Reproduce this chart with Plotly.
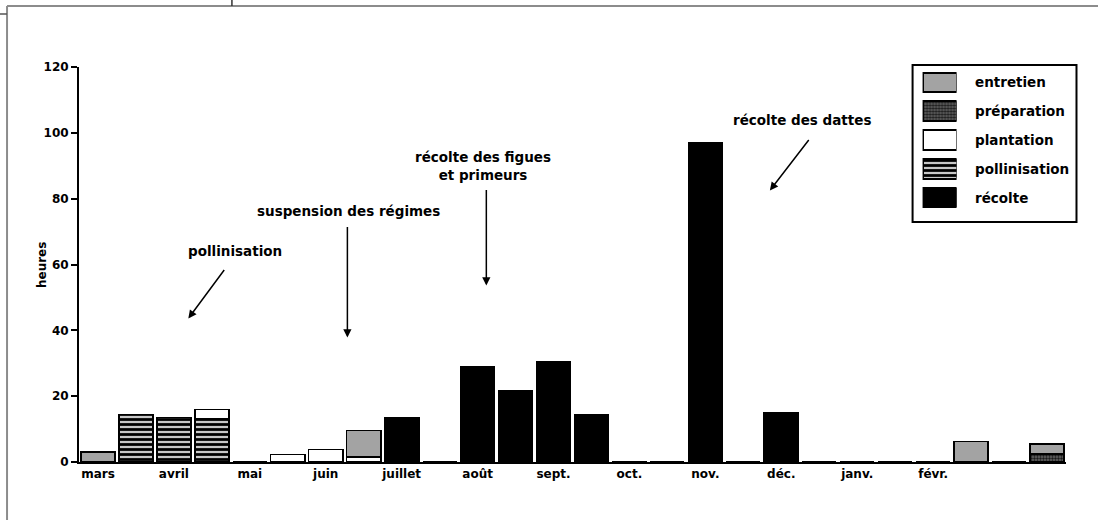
import plotly.graph_objects as go

# 26 demi-mois, de mars à février (+ un créneau final)
slots = list(range(26))
mois = ['mars', 'avril', 'mai', 'juin', 'juillet', 'août', 'sept.', 'oct.',
        'nov.', 'déc.', 'janv.', 'févr.']
mois_pos = [0, 2, 4, 6, 8, 10, 12, 14, 16, 18, 20, 22]

pollinisation = [0, 14.5, 13.5, 13, 0, 0, 0, 0, 0, 0, 0, 0, 0, 0, 0, 0, 0, 0, 0, 0, 0, 0, 0, 0, 0, 0]
preparation = [0, 0, 0, 0, 0, 0, 0, 0, 0, 0, 0, 0, 0, 0, 0, 0, 0, 0, 0, 0, 0, 0, 0, 0, 0, 2.4]
plantation = [0, 0, 0, 3, 0, 2.3, 3.8, 1.5, 0, 0, 0, 0, 0, 0, 0, 0, 0, 0, 0, 0, 0, 0, 0, 0, 0, 0]
entretien = [3, 0, 0, 0, 0, 0, 0, 8, 0, 0, 0, 0, 0, 0, 0, 0, 0, 0, 0, 0, 0, 0, 0, 6.2, 0, 3]
recolte = [0, 0, 0, 0, 0, 0, 0, 0, 13.5, 0, 29, 21.5, 30.5, 14.5, 0, 0, 97, 0, 15, 0, 0, 0, 0, 0, 0, 0]

legende = ['entretien', 'préparation', 'plantation', 'pollinisation', 'récolte']

FONT = 'DejaVu Sans'
styles = {
    'entretien': dict(color='#a3a3a3'),
    'préparation': dict(color='#555555', pattern=dict(shape='.', fgcolor='#1a1a1a', bgcolor='#666666',
                                                      size=3, solidity=0.5, fillmode='replace')),
    'plantation': dict(color='white'),
    'pollinisation': dict(color='#bbbbbb', pattern=dict(shape='-', fgcolor='black', bgcolor='#c8c8c8',
                                                        size=5, solidity=0.55, fillmode='replace')),
    'récolte': dict(color='black'),
}

fig = go.Figure()
for nom, vals in [('pollinisation', pollinisation), ('préparation', preparation),
                  ('plantation', plantation), ('entretien', entretien), ('récolte', recolte)]:
    fig.add_trace(go.Bar(x=slots, y=vals, name=nom, showlegend=False,
                         marker=dict(line=dict(color='black', width=1.5), **styles[nom])))

# légende dessinée sur un petit axe à part pour avoir de grandes vignettes
for i, nom in enumerate(legende):
    fig.add_trace(go.Bar(x=[1], y=[4 - i], orientation='h', xaxis='x2', yaxis='y2', showlegend=False,
                         width=0.68, hoverinfo='skip',
                         marker=dict(line=dict(color='black', width=2), **styles[nom])))

# conversion pixels -> papier (zone de tracé : x 79..1066.5, y 67..462)
def px(x):
    return (x - 79) / 987.5

def py(y):
    return (462 - y) / 395

txt = dict(size=12, family=FONT, weight='bold', color='black')
gros = dict(txt, size=13.5)

annots = []
for i, nom in enumerate(legende):
    annots.append(dict(x=px(973), y=4 - i, xref='paper', yref='y2', text=nom, showarrow=False,
                       xanchor='left', font=gros))

textes = [
    ('pollinisation', 3.62, 64),
    ('suspension des régimes', 6.6, 76.4),
    ('récolte des figues<br>et primeurs', 10.15, 89.8),
    ('récolte des dattes', 18.55, 103.8),
]
for t, x, y in textes:
    annots.append(dict(x=x, y=y, text=t, showarrow=False, xref='x', yref='y', font=gros))

fleches = [(2.38, 43.6, 37, -50), (6.57, 37.8, 0, -112), (10.23, 53.6, 0, -97), (17.7, 82.5, 40, -52)]
for x, y, ax, ay in fleches:
    annots.append(dict(x=x, y=y, ax=ax, ay=ay, xref='x', yref='y', text='', showarrow=True,
                       arrowhead=2, arrowsize=1.1, arrowwidth=1.5, arrowcolor='black'))

annots.append(dict(x=px(33), y=py(265), xref='paper', yref='paper', text='heures', textangle=-90,
                   showarrow=False, font=txt))

shapes = [
    dict(type='rect', xref='paper', yref='paper', x0=px(913), x1=px(1077), y0=py(222), y1=py(65),
         line=dict(color='black', width=2)),
    # cadre gris de la page d'origine
    dict(type='line', xref='paper', yref='paper', x0=px(7), x1=px(1100), y0=py(6), y1=py(6),
         line=dict(color='#8c8c8c', width=2)),
    dict(type='line', xref='paper', yref='paper', x0=px(7), x1=px(7), y0=py(6), y1=py(522),
         line=dict(color='#8c8c8c', width=2)),
    dict(type='line', xref='paper', yref='paper', x0=px(-2), x1=px(7), y0=py(14), y1=py(14),
         line=dict(color='#555555', width=1.5)),
    dict(type='line', xref='paper', yref='paper', x0=px(232), x1=px(232), y0=py(-2), y1=py(6),
         line=dict(color='#333333', width=1.5)),
]

fig.update_layout(
    width=1098, height=520, barmode='stack', bargap=0.1,
    margin=dict(l=79, r=31.5, t=67, b=58),
    paper_bgcolor='white', plot_bgcolor='white',
    font=txt,
    xaxis=dict(range=[-0.5, 25.5], tickvals=mois_pos, ticktext=mois, showgrid=False, zeroline=False,
               showline=True, linecolor='black', linewidth=2, ticks='', ticklabelstandoff=0,
               tickfont=txt),
    yaxis=dict(range=[0, 120], tickvals=list(range(0, 121, 20)), showgrid=False, zeroline=False,
               showline=True, linecolor='black', linewidth=2, ticks='outside', ticklen=6,
               tickwidth=2, tickcolor='black', tickfont=txt),
    xaxis2=dict(domain=[px(923), px(957)], range=[0, 1], anchor='y2', visible=False),
    yaxis2=dict(domain=[py(212), py(68)], range=[-0.5, 4.5], anchor='x2', visible=False),
    annotations=annots, shapes=shapes,
)

# la page par défaut ajoute une marge de 8 px autour du graphique
fig.write_html('out.html', config={'displayModeBar': False},
               post_script="document.body.style.margin='0';")
